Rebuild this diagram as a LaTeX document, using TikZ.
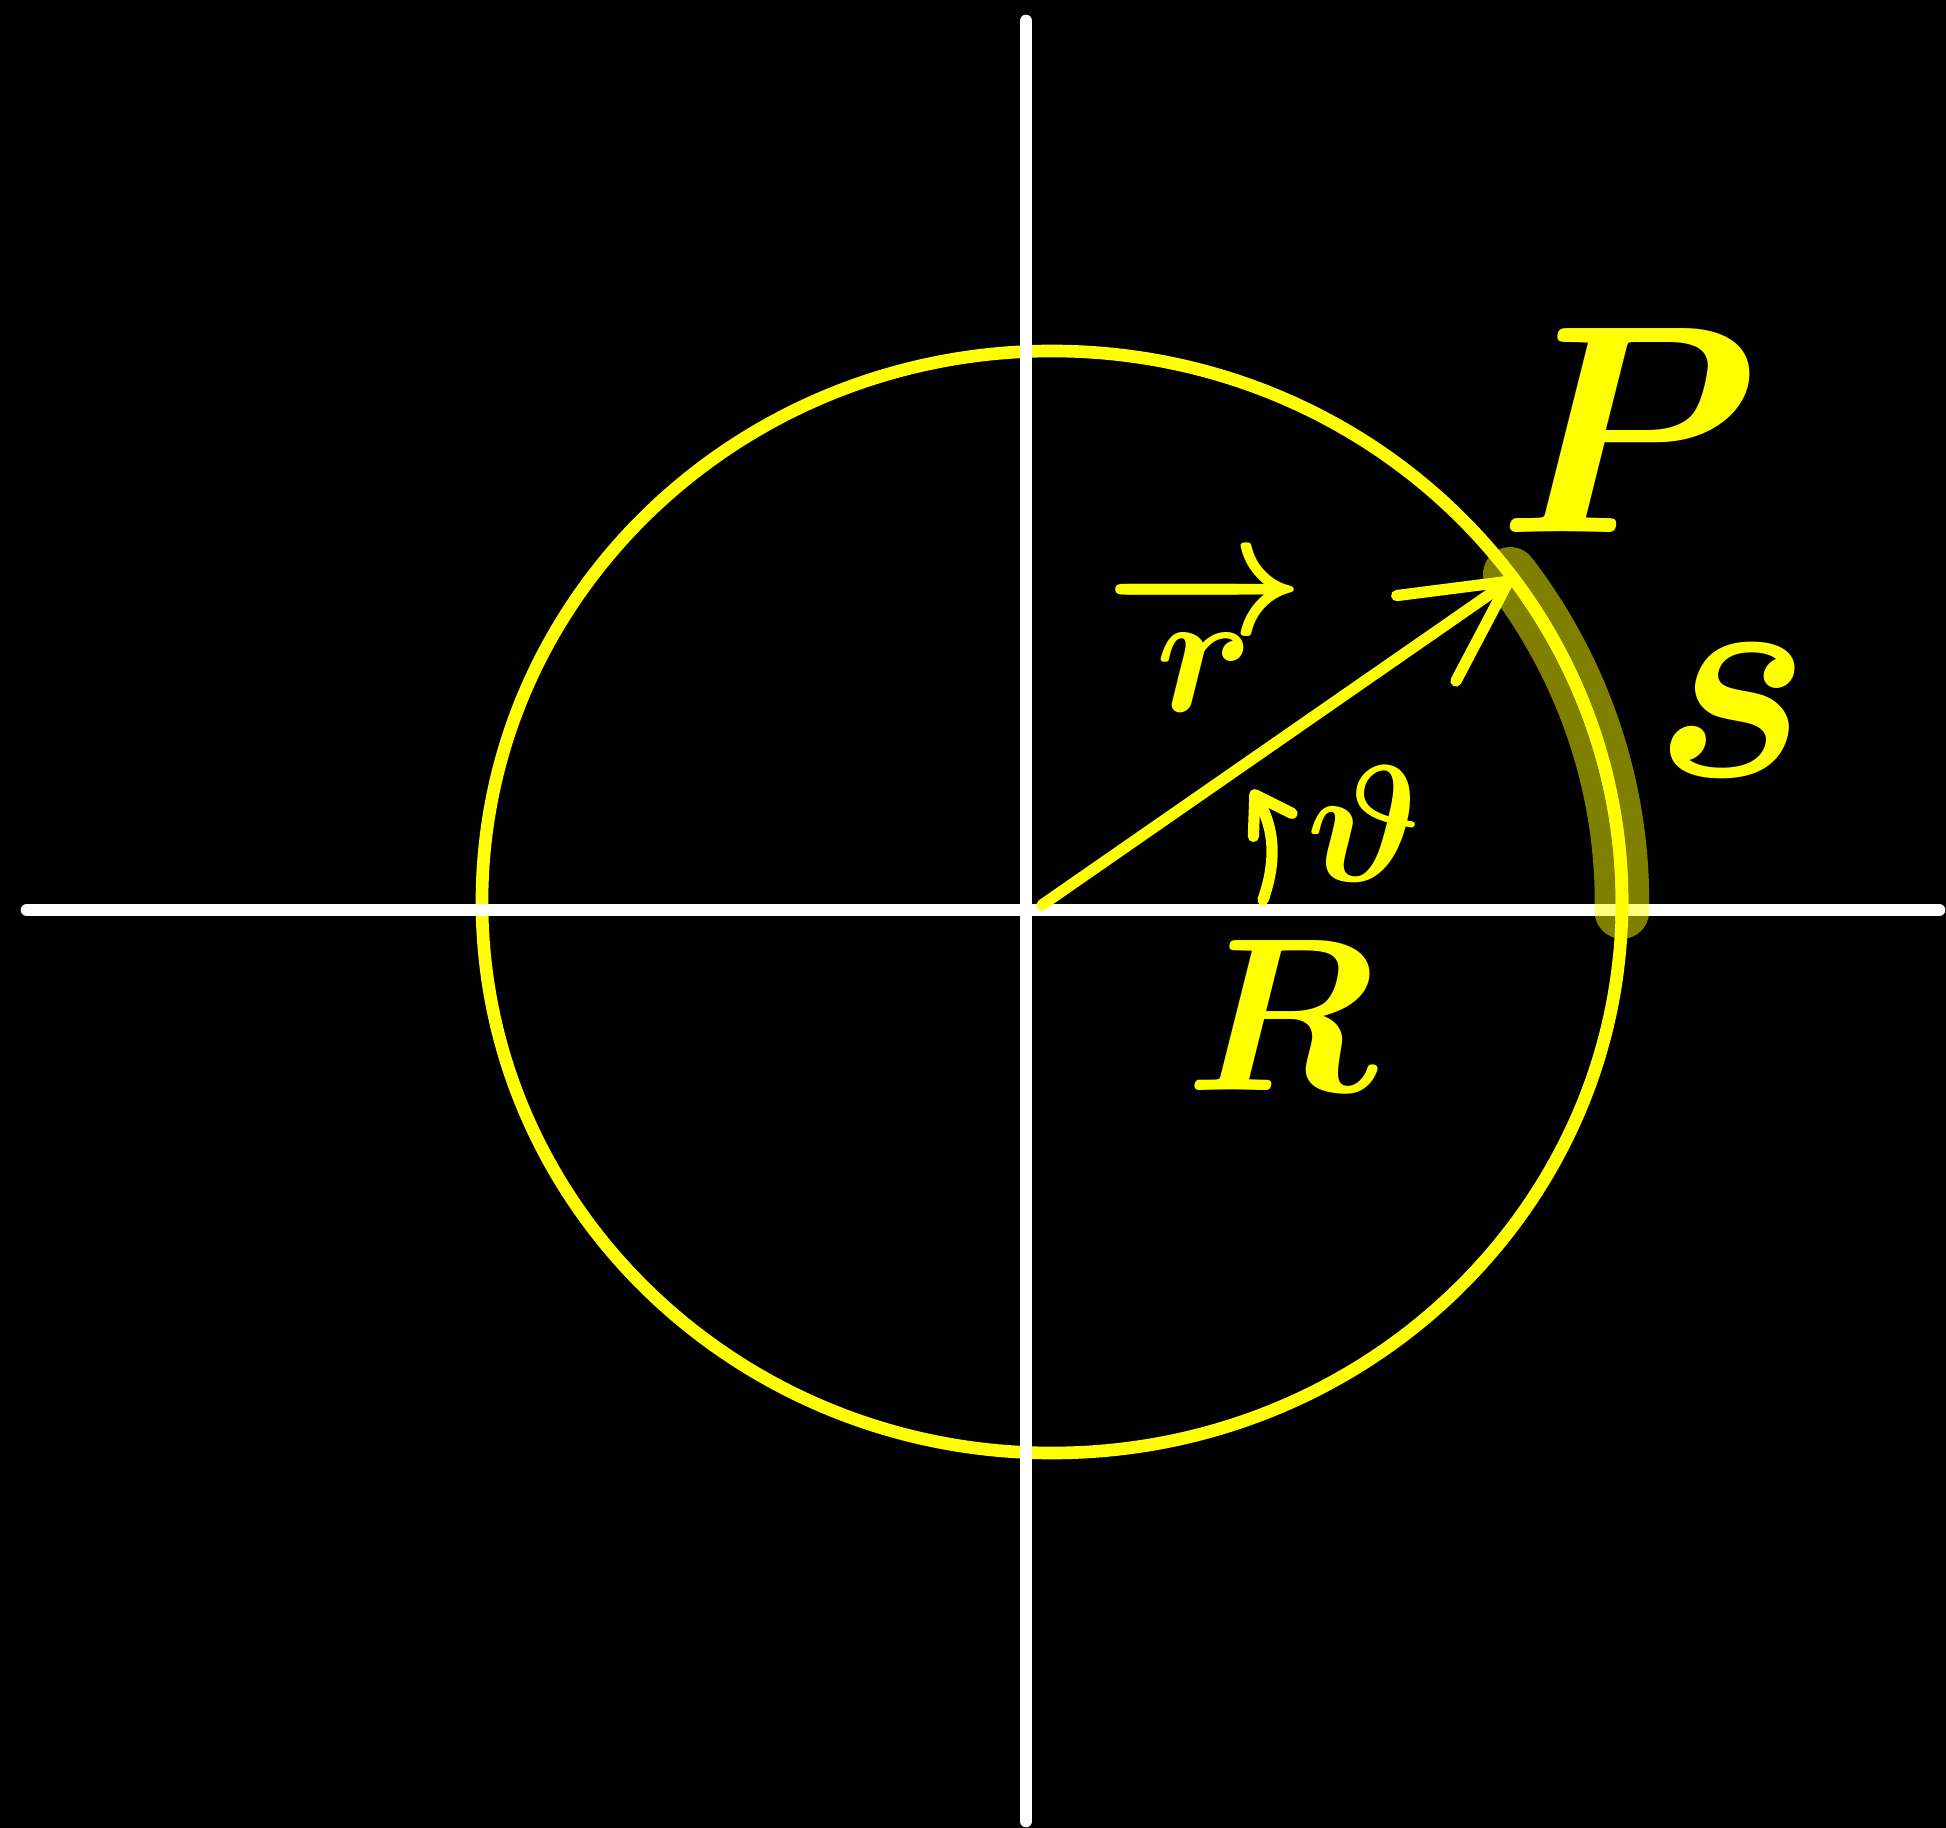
\documentclass[tikz,border=0pt]{standalone}
\usepackage{amsmath,amssymb}
\usepackage{xcolor}
\usepackage{tikz}
\usetikzlibrary{arrows.meta,backgrounds}
\definecolor{penyellow}{HTML}{FFFF00}
\tikzset{
  axisline/.style={draw=white,line width=3.6pt,line cap=round},
  ringline/.style={draw=penyellow,line width=3.6pt},
  arcmark/.style={draw=penyellow,draw opacity=0.5,line width=15.5pt,line cap=round},
  vecline/.style={-{Straight Barb[length=10mm,width=10.4mm,round]},draw=penyellow,line width=3.2pt,line cap=round},
  angarrow/.style={-{Straight Barb[length=3.5mm,width=4.5mm,round]},draw=penyellow,line width=3.2pt,line cap=round},
  lbl/.style={text=penyellow,font=\Huge\boldmath,inner sep=0pt},
}
\begin{document}
\begin{tikzpicture}
  \useasboundingbox[fill=black] (-10.26,-9.18) rectangle (9.20,9.10);
  \coordinate (xL) at (-9.99,0);
  \coordinate (xR) at (9.13,0);
  \coordinate (yT) at (0,8.89);
  \coordinate (yB) at (0,-9.11);
  \coordinate (cC) at (0.26,0.08);
  \coordinate (O) at (0.16,0.05);
  \coordinate (P) at (4.871,3.319);
  \coordinate (aS) at (2.37,0.10);
  \coordinate (aE) at (2.26,1.20);
  \draw[ringline] (cC) ellipse [x radius=5.70,y radius=5.51];
  \draw[axisline] (xL) -- (xR);
  \draw[axisline] (yT) -- (yB);
  % highlighted arc s
  \draw[arcmark] plot[domain=36.5:-1,samples=60,smooth] ({0.26+5.70*cos(\x)},{0.08+5.51*sin(\x)});
  \draw[ringline] plot[domain=36:-2,samples=60,smooth] ({0.26+5.70*cos(\x)},{0.08+5.51*sin(\x)});
  \draw[vecline] (O) -- (P);
  \draw[angarrow] (aS) to[bend right=25] (aE);
  \node[lbl,scale=3.4] (lP) at (6.03,4.79) {$P$};
  \node[lbl,scale=3.4] (ls) at (7.06,2.00) {$s$};
  \node[lbl,scale=2.0] (lr) at (1.79,2.72) {$\overrightarrow{r}$};
  \node[lbl,scale=1.9] (lth) at (3.38,0.86) {$\vartheta$};
  \node[lbl,scale=2.5] (lR) at (2.55,-1.06) {$R$};
\end{tikzpicture}
\end{document}
